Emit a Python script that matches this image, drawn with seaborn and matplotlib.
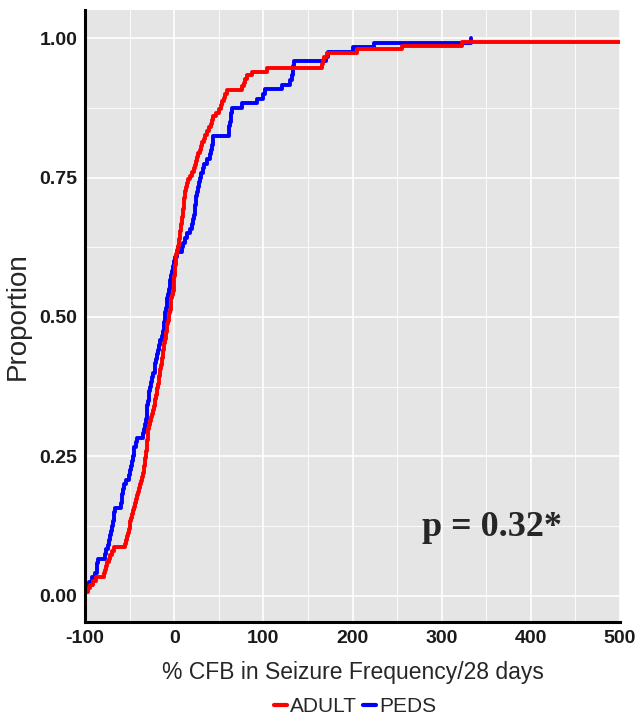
import matplotlib
matplotlib.use('Agg')
import matplotlib.pyplot as plt
import seaborn as sns
import pandas as pd
from matplotlib.ticker import MultipleLocator

# % change from baseline in seizure frequency / 28 days
adult_cfb = [
    -100, -97, -94, -91, -88,
    -79, -78, -76, -75, -73, -72, -70, -68,
    -55, -54, -53, -52, -51, -50, -49,
    -48, -47, -46, -45, -44, -43, -42, -40,
    -39, -38, -37, -36, -35, -34,
    -33.5, -33, -32.5, -32, -31.5, -31, -30.5, -30, -29.5, -29.2, -29,
    -28, -27, -26, -25, -24, -23, -22, -21, -20, -19.5,
    -19, -18, -17.5, -17, -16, -15.5, -15, -14,
    -13.5, -13, -12, -11.5, -11, -10, -9.5, -9, -8,
    -7.5, -7, -6, -5.5, -5, -4, -3.5, -3, -2, -1,
    -0.6, -0.3, 0, 0.3, 0.7, 1, 1.4, 1.8, 2.2, 2.6, 3,
    4, 5, 5.5, 6, 7,
    7.5, 8, 8.5, 9, 9.5, 10, 10.5,
    11, 11.5, 12, 12.5, 13, 14,
    16, 18, 20, 22,
    23, 24.5, 26, 27, 28.5, 30, 31,
    33, 35, 37,
    39, 41, 42.5, 44,
    47, 50, 52,
    54, 56, 57.5, 59,
    76, 78, 80, 82, 87, 104,
    166, 167, 168, 171, 205, 256, 323, 650,
]

peds_cfb = [
    -100, -100, -96, -92, -89, -86.5, -86, -85,
    -77, -76, -74.5, -73, -71.5,
    -70.5, -69.5, -68.5, -67.5, -67, -66,
    -60, -59, -58, -57, -56.5,
    -54, -51, -49, -48, -47.5,
    -46.5, -45.5, -44.5, -43, -42,
    -34.5, -33.5, -32.5,
    -32, -31, -30.5, -30, -29, -28.5, -28, -27,
    -26, -24.5, -23.5, -22, -21,
    -20, -19, -18, -17, -16,
    -14, -12,
    -11.5, -11, -10.5, -10, -9, -8.5, -8,
    -7, -6, -5, -4.5, -3.5, -2.5,
    -1, 0, 1.5, 3,
    8.6, 10, 12, 14, 18, 19.5, 21, 22,
    23, 23.5, 24, 25, 25.5, 27,
    28, 29, 30.5, 32, 33,
    37, 40, 41, 42, 43, 44,
    61, 62, 63, 63.5, 64, 65,
    76, 93, 100, 102, 121, 130, 132,
    133, 133, 134, 170, 173, 200, 224, 333,
]

groups = ['ADULT', 'PEDS']
colors = ['#FF0000', '#0000FF']

df = pd.DataFrame({
    'cfb': adult_cfb + peds_cfb,
    'group': ['ADULT'] * len(adult_cfb) + ['PEDS'] * len(peds_cfb),
})

sns.set_theme(style='darkgrid', rc={'axes.facecolor': '#E5E5E5',
                                    'grid.color': 'white'})
plt.rcParams['font.family'] = ['Liberation Sans', 'DejaVu Sans']
plt.rcParams['axes.unicode_minus'] = False

fig = plt.figure(figsize=(6.37, 7.18), dpi=100)
ax = fig.add_axes([0.1334, 0.1337, 0.840, 0.852])

sns.ecdfplot(data=df, x='cfb', hue='group', hue_order=groups,
             palette=dict(zip(groups, colors)), linewidth=2.8, ax=ax)

ax.set_xlim(-100, 500)
ax.set_ylim(-0.047, 1.05)
ax.xaxis.set_major_locator(MultipleLocator(100))
ax.xaxis.set_minor_locator(MultipleLocator(50))
ax.yaxis.set_major_locator(MultipleLocator(0.25))
ax.yaxis.set_minor_locator(MultipleLocator(0.125))
ax.set_yticks([0, 0.25, 0.5, 0.75, 1.0])
ax.set_yticklabels(['0.00', '0.25', '0.50', '0.75', '1.00'])
ax.grid(which='major', color='white', linewidth=1.2)
ax.grid(which='minor', color='white', linewidth=0.6)

for side in ['top', 'right']:
    ax.spines[side].set_visible(False)
for side in ['left', 'bottom']:
    ax.spines[side].set_visible(True)
    ax.spines[side].set_color('black')
    ax.spines[side].set_linewidth(2.2)

ax.tick_params(axis='both', which='major', length=2.5, color='#333333',
               labelsize=14, labelcolor='#1a1a1a', pad=3)
ax.tick_params(axis='both', which='minor', length=0)
for lab in ax.get_xticklabels() + ax.get_yticklabels():
    lab.set_fontweight('bold')
    lab.set_family(['Liberation Sans Narrow', 'Liberation Sans'])

ax.set_xlabel('% CFB in Seizure Frequency/28 days', fontsize=16.5,
              labelpad=10)
ax.set_ylabel('Proportion', fontsize=20, labelpad=6)

ax.text(0.76, 0.155, 'p = 0.32*', transform=ax.transAxes, ha='center',
        va='center', fontsize=26, fontweight='bold',
        family=['Liberation Serif', 'DejaVu Serif'])

sns.move_legend(ax, 'center', bbox_to_anchor=(0.505, -0.138), ncol=2,
                title=None, frameon=False, fontsize=15, handlelength=0.6,
                handletextpad=0.15, columnspacing=0.3, borderpad=0)
for line in ax.get_legend().get_lines():
    line.set_linewidth(3)

fig.savefig('out.png', dpi=100)
